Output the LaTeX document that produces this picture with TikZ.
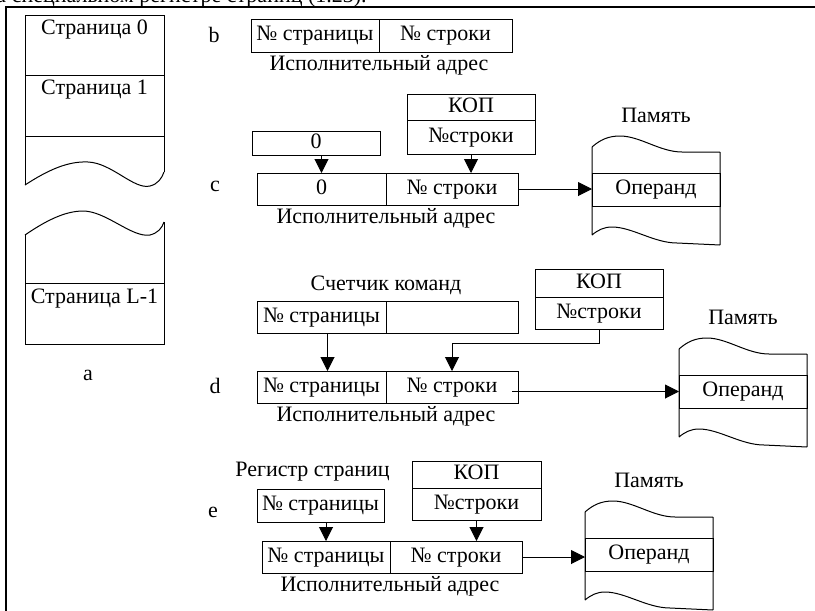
\documentclass[tikz,border=0pt]{standalone}
\usepackage{fontspec}
\setmainfont{Liberation Serif}
\usetikzlibrary{arrows.meta,positioning}

\tikzset{
  cell/.style={draw, inner sep=0pt, outer sep=0pt, text height=15pt, text depth=5pt},
  feed/.style={-{Triangle[length=14pt,width=14pt]}},
}
% wavy memory block around an operand cell (128 wide, 33 high)
\newcommand{\memblock}[1]{%
  \draw[shift={(#1.north west)}] (128,-21) -- (128,72)
    (0,-26) -- (0,62)
    (0,-26) .. controls (8,-33) and (16,-37) .. (28,-37) .. controls (48,-37) and (68,-21) .. (90,-21) -- (128,-21)
    (0,62) .. controls (6,57) and (12,54) .. (20,54) .. controls (40,54) and (62,70) .. (85,70) -- (128,72);
}

\begin{document}
\begin{tikzpicture}[x=1pt,y=-1pt, line width=1pt,
    every node/.style={font=\fontsize{22}{26}\selectfont, inner sep=0pt}]
    \useasboundingbox (0,0) rectangle (815,611);
    \clip (0,0) rectangle (815,611);
    \node[anchor=base west] (head) at (-4,2.5) {а специальном регистре страниц  (1.23).};
    \draw[line width=2pt] (6,611) -- (6,7) -- (815,7);

    % a: pages
    \draw (25,185) -- (25,15) -- (164,15) -- (164,172);
    \draw (25,185) .. controls (48,170) and (68,161) .. (88,162) .. controls (112,163) and (134,190) .. (150,186) .. controls (158,184) and (162,178) .. (164,172);
    \draw (25,75) -- (164,75) (25,136) -- (164,136);
    \draw (164,222) -- (164,344) -- (25,344) -- (25,235);
    \draw (25,235) .. controls (44,222) and (64,211) .. (83,211) .. controls (106,211) and (132,238) .. (150,235) .. controls (158,233) and (162,228) .. (164,222);
    \draw (25,283) -- (164,283);
    \node (pg0) at (94.5,30) {Страница 0};
    \node (pg1) at (94.5,90) {Страница 1};
    \node (pgl) at (94.5,299) {Страница L-1};
    \node[anchor=base] (la) at (88,380) {a};

    % b
    \node[anchor=base] (lb) at (214,42) {b};
    \node[cell, anchor=north west, minimum width=128, minimum height=33] (bpage) at (251,19) {№ страницы};
    \node[cell, right=0pt of bpage, minimum width=133, minimum height=33] (bline) {№ строки};
    \node[below=3pt of bpage.south east] (baddr) {Исполнительный адрес};

    % c
    \node[anchor=base] (lc) at (215,191) {c};
    \node[cell, anchor=north west, minimum width=128, minimum height=24] (zero) at (252,131) {0};
    \node[cell, anchor=north west, minimum width=128, minimum height=26] (kopc) at (407,94) {КОП};
    \node[cell, below=0pt of kopc, minimum width=128, minimum height=34] (nrc) {№строки};
    \node[cell, anchor=north west, minimum width=129, minimum height=32] (czero) at (257,173) {0};
    \node[cell, right=0pt of czero, minimum width=132, minimum height=32] (cline) {№ строки};
    \node[below=3pt of czero.south east] (caddr) {Исполнительный адрес};
    \node[cell, anchor=north west, minimum width=128, minimum height=33] (opc) at (592,173) {Операнд};
    \memblock{opc}
    \node[above=50pt of opc] (memc) {Память};
    \draw[feed] (czero.north |- zero.south) -- (czero.north);
    \draw[feed] (nrc.south) -- (nrc.south |- cline.north);
    \draw[feed] (cline.east) -- (cline.east -| opc.west);

    % d
    \node[anchor=base] (ld) at (215,393) {d};
    \node[cell, anchor=north west, minimum width=129, minimum height=32] (cntp) at (257,301) {№ страницы};
    \node[cell, right=0pt of cntp, minimum width=132, minimum height=32] (cntl) {};
    \node[above=6pt of cntp.north east] (cnt) {Счетчик команд};
    \node[cell, anchor=north west, minimum width=128, minimum height=28] (kopd) at (535,269) {КОП};
    \node[cell, below=0pt of kopd, minimum width=128, minimum height=32] (nrd) {№строки};
    \node[cell, anchor=north west, minimum width=129, minimum height=32] (dpage) at (257,371) {№ страницы};
    \node[cell, right=0pt of dpage, minimum width=132, minimum height=32] (dline) {№ строки};
    \node[below=3pt of dpage.south east] (daddr) {Исполнительный адрес};
    \node[cell, anchor=north west, minimum width=128, minimum height=33] (opd) at (679,375) {Операнд};
    \memblock{opd}
    \node[above=50pt of opd] (memd) {Память};
    \draw[feed] ([xshift=6pt]cntp.south) -- ([xshift=6pt]dpage.north);
    \draw[feed] (nrd.south) -- ++(0,14) -| (dline.north);
    \coordinate (dout) at ([xshift=-6pt]dline.east);
    \draw[feed] (dout |- opd.west) -- (opd.west);

    % e
    \node[anchor=base] (le) at (213,517) {e};
    \node[cell, anchor=north west, minimum width=127, minimum height=33] (ereg) at (257,489) {№ страницы};
    \node[above=7pt of ereg, xshift=-8pt] (reg) {Регистр страниц};
    \node[cell, anchor=north west, minimum width=129, minimum height=27] (kope) at (412,461) {КОП};
    \node[cell, below=0pt of kope, minimum width=129, minimum height=32] (nre) {№строки};
    \node[cell, anchor=north west, minimum width=128, minimum height=32] (epage) at (262,541) {№ страницы};
    \node[cell, right=0pt of epage, minimum width=132, minimum height=32] (eline) {№ строки};
    \node[below=3pt of epage.south east] (eaddr) {Исполнительный адрес};
    \node[cell, anchor=north west, minimum width=128, minimum height=33] (ope) at (585,538) {Операнд};
    \memblock{ope}
    \node[above=50pt of ope] (meme) {Память};
    \draw[feed] (epage.north |- ereg.south) -- (epage.north);
    \draw[feed] (nre.south) -- (nre.south |- eline.north);
    \draw[feed] (eline.east) -- (eline.east -| ope.west);
\end{tikzpicture}
\end{document}
